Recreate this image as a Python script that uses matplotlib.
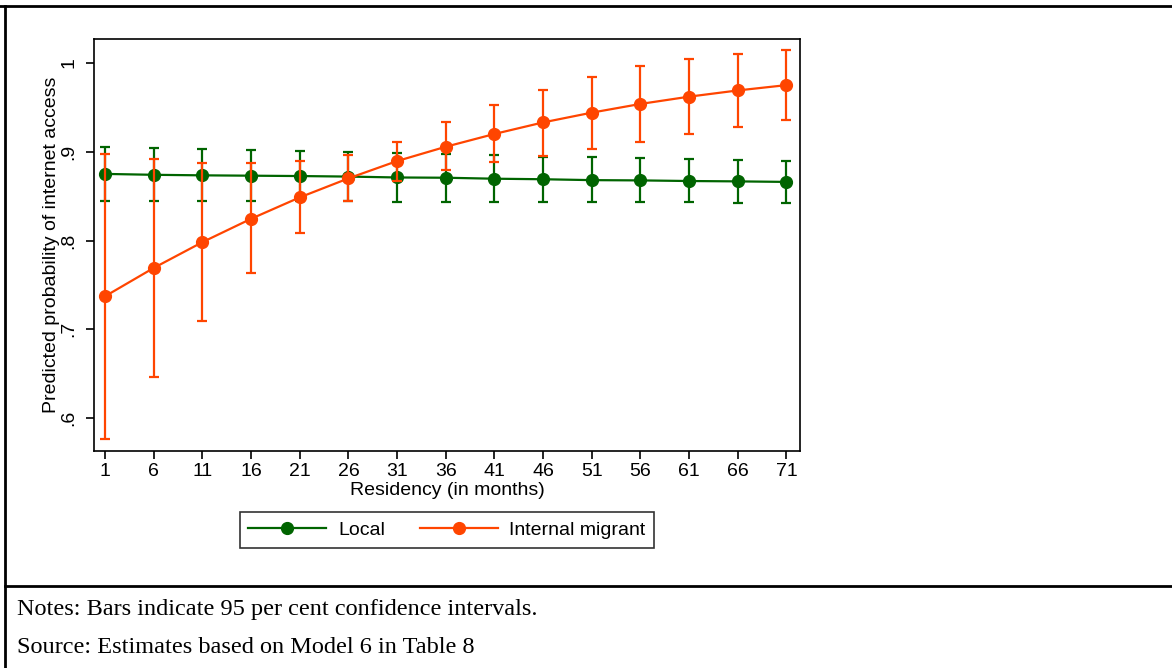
import numpy as np
from matplotlib import pyplot as plt
from matplotlib.lines import Line2D

plt.rcParams['font.family'] = ['Liberation Sans', 'DejaVu Sans']

# residency in months
months = [1, 6, 11, 16, 21, 26, 31, 36, 41, 46, 51, 56, 61, 66, 71]

local = [0.875, 0.874, 0.8734, 0.873, 0.8726, 0.872, 0.871, 0.8707, 0.8696,
         0.869, 0.868, 0.8677, 0.867, 0.8666, 0.866]
local_lo = [0.8444, 0.8444, 0.8444, 0.8444, 0.8444, 0.8444, 0.843, 0.843, 0.843,
            0.843, 0.843, 0.843, 0.843, 0.8426, 0.8426]
local_hi = [0.905, 0.904, 0.9027, 0.9016, 0.9004, 0.8997, 0.898, 0.897, 0.896,
            0.894, 0.894, 0.893, 0.892, 0.891, 0.889]

migrant = [0.7373, 0.7692, 0.7982, 0.8245, 0.8486, 0.870, 0.8895, 0.9056, 0.920,
           0.933, 0.944, 0.9538, 0.962, 0.969, 0.975]
migrant_lo = [0.5767, 0.6463, 0.7091, 0.763, 0.809, 0.844, 0.867, 0.879, 0.888,
              0.895, 0.903, 0.911, 0.920, 0.928, 0.936]
migrant_hi = [0.8974, 0.8918, 0.8876, 0.8869, 0.889, 0.8959, 0.911, 0.933, 0.953,
              0.970, 0.984, 0.996, 1.004, 1.010, 1.014]

yticks = [0.6, 0.7, 0.8, 0.9, 1.0]
ytick_labels = ['.6', '.7', '.8', '.9', '1']

green = '#006400'
orange = '#FF4500'

fig = plt.figure(figsize=(11.72, 6.68), dpi=100)
ax = fig.add_axes([0.0802, 0.3249, 0.6024, 0.6168])

def draw(vals, lo, hi, color):
    vals = np.array(vals)
    err = [vals - np.array(lo), np.array(hi) - vals]
    ax.errorbar(months, vals, yerr=err, fmt='none', ecolor=color,
                elinewidth=1.6, capsize=3.5, capthick=1.6)
    ax.plot(months, vals, color=color, lw=1.6, marker='o', ms=8.5)

draw(local, local_lo, local_hi, green)
draw(migrant, migrant_lo, migrant_hi, orange)

ax.set_xlim(-0.15, 72.4)
ax.set_ylim(0.563, 1.027)
ax.set_xticks(months)
ax.set_xticklabels([str(m) for m in months])
ax.set_yticks(yticks)
ax.set_yticklabels(ytick_labels, rotation=90, va='center')
ax.tick_params(axis='both', labelsize=14, length=6, width=1.2, color='black')
ax.tick_params(axis='y', pad=6)
ax.tick_params(axis='x', pad=3)
for s in ax.spines.values():
    s.set_linewidth(1.2)

ax.set_xlabel('Residency (in months)', fontsize=14, labelpad=1)
ax.set_ylabel('Predicted probability of internet access', fontsize=14)
ax.yaxis.set_label_coords(-0.048, 0.5)

handles = [Line2D([], [], color=green, lw=1.6, marker='o', ms=8.5),
           Line2D([], [], color=orange, lw=1.6, marker='o', ms=8.5)]
leg = fig.legend(handles, ['Local', 'Internal migrant'], loc='center',
                 bbox_to_anchor=(0.3814, 0.2066), ncol=2, fontsize=14,
                 frameon=True, fancybox=False, edgecolor='black',
                 handlelength=4.0, handletextpad=0.6, columnspacing=1.8,
                 borderpad=0.45)
leg.get_frame().set_linewidth(1.2)

# table-style border lines
fig.add_artist(Line2D([0, 1], [0.9915, 0.9915], color='black', lw=2))
fig.add_artist(Line2D([0.0043, 0.0043], [0, 0.9915], color='black', lw=2))
fig.add_artist(Line2D([0.0043, 1], [0.1228, 0.1228], color='black', lw=2))

fig.text(0.0145, 0.087, 'Notes: Bars indicate 95 per cent confidence intervals.',
         family='Liberation Serif', fontsize=17.5, va='center')
fig.text(0.0145, 0.030, 'Source: Estimates based on Model 6 in Table 8',
         family='Liberation Serif', fontsize=17.5, va='center')

fig.savefig('out.png', dpi=100)
